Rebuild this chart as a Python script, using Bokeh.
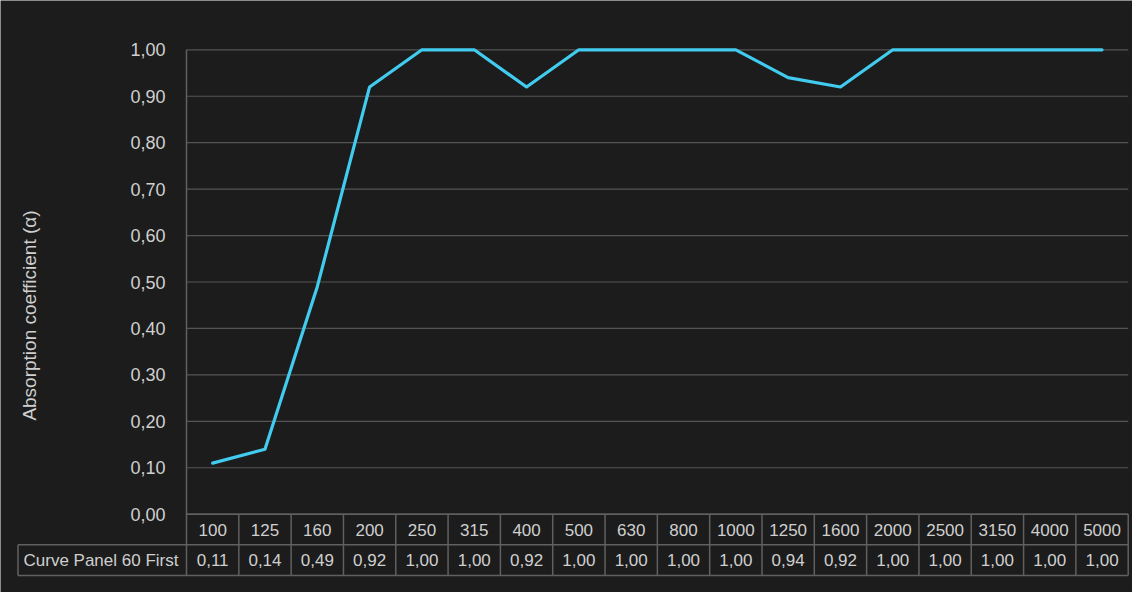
import math
from bokeh.plotting import figure
from bokeh.models import Range1d
from bokeh.core.properties import value
from bokeh.embed import file_html
from bokeh.resources import INLINE

# ---- data ----
freqs = ["100", "125", "160", "200", "250", "315", "400", "500", "630", "800",
         "1000", "1250", "1600", "2000", "2500", "3150", "4000", "5000"]
alpha = [0.11, 0.14, 0.49, 0.92, 1.00, 1.00, 0.92, 1.00, 1.00, 1.00,
         1.00, 0.94, 0.92, 1.00, 1.00, 1.00, 1.00, 1.00]
series_name = "Curve Panel 60 First"
y_ticks = [0.0, 0.1, 0.2, 0.3, 0.4, 0.5, 0.6, 0.7, 0.8, 0.9, 1.0]
y_title = "Absorption coefficient (\u03b1)"

def fmt(v):
    return f"{v:.2f}".replace(".", ",")

# ---- layout constants (canvas px) ----
W, H = 1132, 592
PLOT_L, PLOT_R = 186.0, 1127.7
Y1_PX, Y0_PX = 49.3, 513.7
n = len(freqs)
cw = (PLOT_R - PLOT_L) / n
unit = Y0_PX - Y1_PX

def dx(px):
    return (px - PLOT_L) / cw - 0.5

def dy(py):
    return (Y0_PX - py) / unit

FONT = value("Liberation Sans")
GRID = "#555555"
BORDER = "#606060"
TXT = "#cfcfcf"
BG = "#1c1c1c"
LINE = "#41cbef"

p = figure(width=W, height=H, output_backend="svg", toolbar_location=None,
           x_range=Range1d(dx(0), dx(W)), y_range=Range1d(dy(H), dy(0)),
           min_border=0, background_fill_color=BG, border_fill_color=BG,
           outline_line_color=None)
p.axis.visible = False
p.grid.visible = False

xs = list(range(n))
left_edge = -0.5
right_edge = n - 0.5

# gridlines
p.segment(x0=[left_edge] * len(y_ticks), x1=[right_edge] * len(y_ticks),
          y0=y_ticks, y1=y_ticks, line_color=GRID, line_width=1.2)

# table geometry in data units
row_h = 30.6 / unit
hdr_bot = -row_h
val_bot = -2 * row_h
label_left = dx(17.5)

# y axis line (extends through table)
p.segment(x0=[left_edge], x1=[left_edge], y0=[val_bot], y1=[1.0],
          line_color=BORDER, line_width=1.5)

# table horizontal lines
p.segment(x0=[left_edge, label_left, label_left], x1=[right_edge] * 3,
          y0=[0.0, hdr_bot, val_bot], y1=[0.0, hdr_bot, val_bot],
          line_color=BORDER, line_width=1.5)
# table vertical lines
vx = [i + 0.5 for i in range(n)]
p.segment(x0=vx, x1=vx, y0=[val_bot] * n, y1=[0.0] * n,
          line_color=BORDER, line_width=1.5)
p.segment(x0=[label_left], x1=[label_left], y0=[val_bot], y1=[hdr_bot],
          line_color=BORDER, line_width=1.5)

# data line
p.line(xs, alpha, line_color=LINE, line_width=3.2, line_join="round", line_cap="round")

# y tick labels
p.text(x=[dx(165)] * len(y_ticks), y=y_ticks, text=[fmt(v) for v in y_ticks],
       text_align="right", text_baseline="middle", text_font=FONT,
       text_font_size="18px", text_color=TXT)

# y axis title
p.text(x=[dx(29)], y=[dy(315)], text=[y_title], angle=math.pi / 2,
       text_align="center", text_baseline="middle", text_font=FONT,
       text_font_size="19px", text_color=TXT)

# header row
p.text(x=xs, y=[hdr_bot / 2] * n, text=freqs, text_align="center",
       text_baseline="middle", text_font=FONT, text_font_size="17px", text_color=TXT)
# values row
p.text(x=xs, y=[(hdr_bot + val_bot) / 2] * n, text=[fmt(v) for v in alpha],
       text_align="center", text_baseline="middle", text_font=FONT,
       text_font_size="17px", text_color=TXT)
p.text(x=[dx(23)], y=[(hdr_bot + val_bot) / 2], text=[series_name],
       text_align="left", text_baseline="middle", text_font=FONT,
       text_font_size="17px", text_color=TXT)

open("out.html", "w").write(file_html(p, INLINE))
